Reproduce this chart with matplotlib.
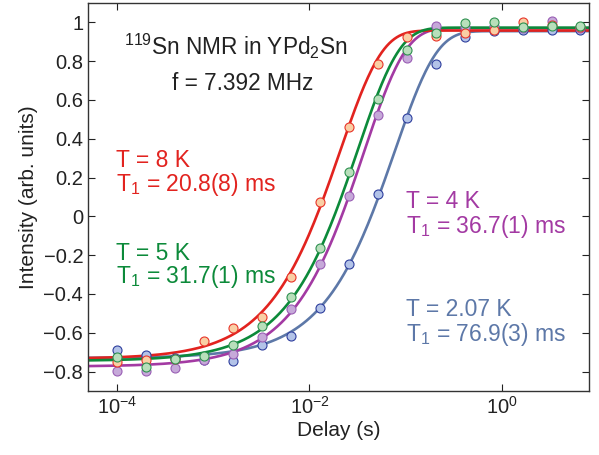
import numpy as np
import matplotlib
matplotlib.use("Agg")
import matplotlib.pyplot as plt
from matplotlib.ticker import LogLocator, NullLocator

plt.rcParams["font.family"] = ["Liberation Sans", "DejaVu Sans"]
plt.rcParams["mathtext.fontset"] = "custom"
plt.rcParams["mathtext.rm"] = "Liberation Sans"
plt.rcParams["mathtext.it"] = "Liberation Sans"
plt.rcParams["mathtext.default"] = "regular"

# ==========================
# data
# ==========================
delay = 1e-4 * 2.0 ** np.arange(17)   # s

i_8K = [-0.753, -0.74, -0.735, -0.643, -0.574, -0.517, -0.315, 0.076, 0.459,
        0.783, 0.924, 0.930, 0.947, 0.96, 1.0, 0.985, 0.975]
i_5K = [-0.727, -0.774, -0.736, -0.719, -0.664, -0.565, -0.414, -0.162, 0.228,
        0.605, 0.857, 0.947, 0.998, 1.0, 0.978, 0.981, 0.983]
i_4K = [-0.795, -0.795, -0.784, -0.74, -0.71, -0.62, -0.478, -0.245, 0.104,
        0.523, 0.819, 0.983, 0.975, 0.98, 0.97, 1.005, 0.97]
i_2K = [-0.691, -0.717, -0.73, -0.738, -0.745, -0.665, -0.615, -0.472, -0.243,
        0.116, 0.507, 0.786, 0.924, 0.955, 0.96, 0.96, 0.96]

# fit parameters: T1 (ms), start value, plateau value
fit_T1 = [20.8, 31.7, 36.7, 76.9]
fit_start = [-0.734, -0.745, -0.774, -0.73]
fit_end = [0.958, 0.973, 0.970, 0.955]

series = [i_8K, i_5K, i_4K, i_2K]
line_colors = ["#e2231f", "#0c8a3a", "#a33aa3", "#5d78a8"]
face_colors = ["#f9cfa5", "#b8dfbb", "#c6a9d9", "#b3c3e8"]
edge_colors = ["#e8352a", "#2e9150", "#9a5fb5", "#2f3f9e"]

labels = [("T = 8 K", "$T_1$ = 20.8(8) ms"),
          ("T = 5 K", "$T_1$ = 31.7(1) ms"),
          ("T = 4 K", "$T_1$ = 36.7(1) ms"),
          ("T = 2.07 K", "$T_1$ = 76.9(3) ms")]

# ==========================
# figure
# ==========================
fig = plt.figure(figsize=(5.99, 4.55), dpi=100)
ax = fig.add_axes([0.147, 0.1407, 0.836, 0.8527])

t_fit = np.logspace(np.log10(5e-5), np.log10(8), 400)

line_order = [3, 2, 0, 1]
for i in line_order:
    y_fit = fit_end[i] - (fit_end[i] - fit_start[i]) * np.exp(-t_fit / (fit_T1[i] * 1e-3))
    ax.plot(t_fit, y_fit, color=line_colors[i], lw=1.9, zorder=2)

marker_order = [3, 2, 0, 1]
for i in marker_order:
    ax.plot(delay, series[i], "o", ms=6.5, mfc=face_colors[i],
            mec=edge_colors[i], mew=0.8, zorder=3)

ax.set_xscale("log")
ax.set_xlim(5e-5, 8)
ax.set_ylim(-0.9, 1.1)
ax.xaxis.set_major_locator(LogLocator(base=100))
ax.xaxis.set_minor_locator(NullLocator())
ax.set_yticks(np.arange(-0.8, 1.01, 0.2))
ax.set_yticklabels(["−0.8", "−0.6", "−0.4", "−0.2", "0", "0.2", "0.4", "0.6", "0.8", "1"])

ax.tick_params(direction="in", top=True, right=True, length=5, width=0.8,
               labelsize=14.5, colors="#222222", labelcolor="#222222")
for sp in ax.spines.values():
    sp.set_linewidth(1.0)
    sp.set_color("#333333")

ax.set_xlabel("Delay (s)", fontsize=15, color="#222222", labelpad=2)
ax.set_ylabel("Intensity (arb. units)", fontsize=15, color="#222222", labelpad=4)

# ==========================
# annotations
# ==========================
fig.text(236 / 599, 1 - 46 / 455, "$^{119}$Sn NMR in YPd$_2$Sn",
         fontsize=16.3, ha="center", va="center", color="#222222")
fig.text(243 / 599, 1 - 84 / 455, "f = 7.392 MHz",
         fontsize=16.3, ha="center", va="center", color="#222222")

label_pos = [(116, 160), (116, 253), (406, 202), (406, 310)]
for i, (l1, l2) in enumerate(labels):
    px, py = label_pos[i]
    fig.text(px / 599, 1 - py / 455, l1, fontsize=16.5, color=line_colors[i],
             ha="left", va="center")
    fig.text(px / 599, 1 - (py + 24) / 455, l2, fontsize=16.5, color=line_colors[i],
             ha="left", va="center")

plt.savefig("out.png", dpi=100)
plt.close()
